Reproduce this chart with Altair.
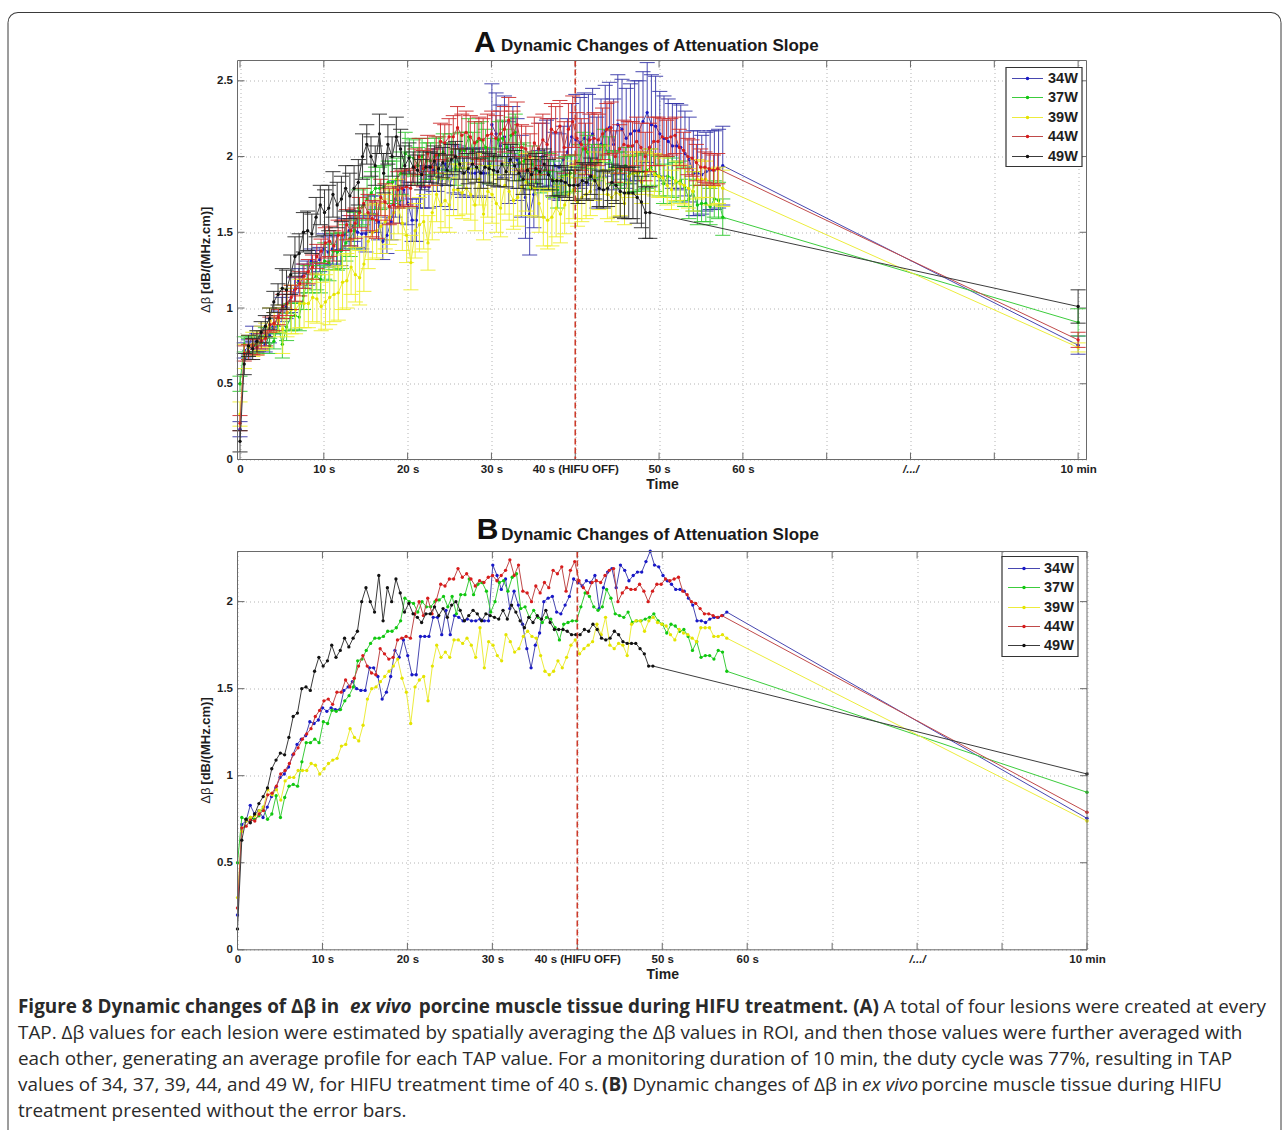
import altair as alt
import pandas as pd

# ---------------------------------------------------------------- data
SERIES = ["34W", "37W", "39W", "44W", "49W"]

V_34W = [0.20, 0.72, 0.74, 0.83, 0.78, 0.80, 0.76, 0.82, 0.88, 0.93,
         0.99, 1.01, 1.05, 1.12, 1.18, 1.21, 1.23, 1.31, 1.30, 1.32,
         1.39, 1.37, 1.39, 1.38, 1.38, 1.49, 1.51, 1.54, 1.50, 1.49,
         1.49, 1.62, 1.62, 1.57, 1.44, 1.48, 1.57, 1.72, 1.68, 1.78,
         1.69, 1.58, 1.58, 1.80, 1.80, 1.80, 1.91, 1.91, 1.81, 1.95,
         1.81, 1.92, 1.91, 1.89, 1.90, 1.89, 1.89, 1.90, 1.89, 1.89,
         2.21, 2.15, 2.07, 2.13, 1.96, 2.06, 1.98, 1.87, 1.73, 1.62,
         1.75, 1.82, 2.00, 2.02, 2.03, 1.94, 1.93, 1.98, 2.03, 2.13,
         2.11, 2.09, 2.12, 2.11, 2.15, 1.96, 2.08, 2.17, 2.19, 2.08,
         2.21, 2.18, 2.12, 2.15, 2.17, 2.17, 2.23, 2.29, 2.21, 2.20,
         2.15, 2.12, 2.10, 2.07, 2.07, 2.06, 2.02, 1.98, 1.89, 1.89,
         1.88, 1.90, 1.91, 1.91, 1.92, 1.94]

V_37W = [0.50,
         0.76, 0.75, 0.76, 0.75, 0.77, 0.82, 0.75, 0.78, 0.885, 0.76,
         0.875, 0.94, 0.95, 0.94, 1.08, 1.19, 1.19, 1.21, 1.19, 1.31,
         1.30, 1.375, 1.37, 1.38, 1.43, 1.46, 1.51,
         1.66, 1.67, 1.72, 1.76, 1.79, 1.79, 1.80, 1.83, 1.83, 1.85,
         1.89, 2.02, 2.00, 1.99, 1.94, 2.00, 1.97, 1.97, 2.00, 2.01,
         2.03, 1.97, 2.03, 1.93, 2.04, 2.04, 2.13, 2.04,
         2.10, 2.11, 2.06, 1.94, 2.00, 2.11, 2.12, 2.06, 2.14, 2.16,
         1.96, 1.97, 1.91, 1.95, 1.91, 1.88, 1.91, 1.90, 1.85, 1.78,
         1.87, 1.88, 1.89, 1.89, 1.97, 2.05, 2.03, 1.97,
         1.95, 1.97, 2.07, 2.02, 1.93, 1.92, 1.91, 1.94, 1.88, 1.89,
         1.89, 1.90, 1.91, 1.93, 1.89, 1.87, 1.82, 1.87, 1.86, 1.83,
         1.84, 1.80, 1.72, 1.77, 1.68, 1.69, 1.69, 1.67, 1.72, 1.71, 1.60]

V_39W = [0.30, 0.68,
         0.74, 0.76, 0.77, 0.80, 0.82, 0.92, 0.89, 0.92, 0.86, 0.97,
         0.99, 0.99, 1.03, 1.03, 1.03, 1.07, 1.06, 1.01, 1.04, 1.07,
         1.09, 1.10, 1.17, 1.18, 1.27, 1.22,
         1.20, 1.29, 1.44, 1.50, 1.51, 1.54, 1.57, 1.60, 1.63, 1.67,
         1.56, 1.48, 1.30, 1.51, 1.55, 1.57, 1.43, 1.63, 1.75, 1.68,
         1.71, 1.68, 1.78, 1.78, 1.76, 1.79, 1.75, 1.68,
         1.85, 1.62, 1.77, 1.75, 1.69, 1.66, 1.81, 1.77, 1.71, 1.73,
         1.80, 1.83, 1.80, 1.79, 1.69, 1.60, 1.58, 1.60, 1.66, 1.62,
         1.68, 1.75, 1.78, 1.70, 1.73, 1.75, 1.77,
         1.87, 1.81, 1.91, 1.75, 1.73, 1.76, 1.75, 1.69, 1.87, 1.89,
         1.89, 1.83, 1.89, 1.91, 1.88, 1.87, 1.86, 1.81, 1.78, 1.84,
         1.82, 1.81, 1.79, 1.77, 1.85, 1.85, 1.85, 1.80, 1.80, 1.81, 1.79]

V_44W = [0.24, 0.70,
         0.71, 0.745, 0.74, 0.78, 0.80, 0.89, 0.90, 0.94, 1.01, 1.03,
         1.07, 1.125, 1.16, 1.21, 1.24, 1.27, 1.34, 1.375, 1.43, 1.44,
         1.41, 1.48, 1.48, 1.55, 1.51,
         1.56, 1.63, 1.69, 1.63, 1.59, 1.58, 1.73, 1.70, 1.67, 1.68,
         1.78, 1.79, 1.80, 1.79, 1.93, 2.00, 1.92, 2.02, 1.93, 2.01,
         2.10, 2.09, 2.13, 2.13, 2.19, 2.14, 2.16, 2.13, 2.09,
         2.12, 2.11, 2.14, 2.15, 2.12, 2.15, 2.18, 2.24, 2.15, 2.21,
         2.06, 2.05, 2.00, 2.09, 2.05, 2.11, 2.08, 2.18, 2.16, 2.20,
         2.06, 2.18, 2.23, 2.12, 2.08, 2.05,
         2.11, 2.12, 2.11, 2.15, 2.18, 2.19, 2.00, 2.05, 2.08, 2.07,
         2.07, 2.10, 2.06, 2.00, 2.06, 2.10, 2.10, 2.13, 2.12, 2.13,
         2.14, 2.06, 2.04, 2.00, 1.99, 1.96, 1.93, 1.93, 1.92, 1.91, 1.92]

V_49W = [0.12, 0.63, 0.75, 0.73, 0.78, 0.84, 0.88, 0.93, 1.04, 1.09,
         1.13, 1.12, 1.22, 1.34, 1.36, 1.50, 1.51, 1.49, 1.60, 1.68,
         1.63, 1.66, 1.75, 1.68, 1.72, 1.79, 1.74, 1.79, 1.83, 2.00,
         2.08, 2.00, 1.94, 2.15, 1.89, 2.08, 2.00, 2.13, 2.05, 1.94,
         1.99, 1.93, 1.91, 1.88, 1.93, 1.93, 1.97, 1.92, 1.96, 1.91,
         1.98, 2.00, 1.95, 1.89, 1.92, 1.95, 1.93, 1.89, 1.93, 1.92,
         1.91, 1.90, 1.95, 1.90, 1.98, 1.94, 1.89, 1.85, 1.91, 1.88,
         1.92, 1.90, 1.95, 1.88, 1.84, 1.84, 1.84, 1.83, 1.81, 1.81,
         1.81, 1.84, 1.83, 1.87, 1.84, 1.79, 1.78, 1.79, 1.83, 1.81,
         1.77, 1.76, 1.76, 1.76, 1.73, 1.70, 1.63, 1.63]

VALUES = [V_34W, V_37W, V_39W, V_44W, V_49W]
LAST_SAMPLE_S = [57.6, 57.6, 57.6, 57.0, 48.9]   # time of the last sample before the 10-min point
TEN_MIN_POS = 100                                 # x position of the "10 min" point
TEN_MIN_V = [0.755, 0.905, 0.74, 0.79, 1.01]

# error-bar half heights (panel A), one estimate per 5-s window
ERR_WINDOW_S = 5
ERR_34W = [0.05, 0.08, 0.10, 0.12, 0.14, 0.16, 0.27, 0.22, 0.30, 0.33, 0.28, 0.26]
ERR_37W = [0.05, 0.09, 0.12, 0.14, 0.12, 0.12, 0.12, 0.12, 0.11, 0.12, 0.13, 0.12]
ERR_39W = [0.08, 0.16, 0.18, 0.18, 0.18, 0.17, 0.19, 0.19, 0.16, 0.14, 0.13, 0.12]
ERR_44W = [0.05, 0.08, 0.10, 0.12, 0.12, 0.14, 0.15, 0.17, 0.17, 0.16, 0.12, 0.10]
ERR_49W = [0.07, 0.13, 0.15, 0.13, 0.10, 0.10, 0.10, 0.10, 0.12, 0.17]
ERRS = [ERR_34W, ERR_37W, ERR_39W, ERR_44W, ERR_49W]
TEN_MIN_ERR = [0.06, 0.09, 0.03, 0.05, 0.11]

HIFU_OFF_S = 40
X_TICKS = [0, 10, 20, 30, 40, 50, 60, 70, 80, 90, 100]
X_TICK_LABELS = ["0", "10 s", "20 s", "30 s", "40 s (HIFU OFF)", "50 s", "60 s",
                 "", "/.../", "", "10 min"]
Y_TICKS_A = [0, 0.5, 1, 1.5, 2, 2.5]
Y_TICKS_B = [0, 0.5, 1, 1.5, 2]

TITLE_TEXT = "Dynamic Changes of Attenuation Slope"
X_TITLE = "Time"
Y_TITLE_SYMBOL = "Δβ"
Y_TITLE_UNIT = "[dB/(MHz.cm)]"

CAPTION = [
    # text, x, y, align, weight, style
    ("Figure 8 Dynamic changes of Δβ in", 18, 1006, "left", "bold", "normal"),
    ("ex vivo", 350, 1006, "left", "bold", "italic"),
    ("porcine muscle tissue during HIFU treatment. (A)", 879, 1006, "right", "bold", "normal"),
    ("A total of four lesions were created at every", 1266, 1006, "right", "normal", "normal"),
    ("TAP. Δβ values for each lesion were estimated by spatially averaging the Δβ values in ROI, "
     "and then those values were further averaged with", 18, 1032, "left", "normal", "normal"),
    ("each other, generating an average profile for each TAP value. For a monitoring duration of "
     "10 min, the duty cycle was 77%, resulting in TAP", 18, 1058, "left", "normal", "normal"),
    ("values of 34, 37, 39, 44, and 49 W, for HIFU treatment time of 40 s.", 18, 1084, "left", "normal", "normal"),
    ("(B)", 602, 1084, "left", "bold", "normal"),
    ("Dynamic changes of Δβ in", 632.5, 1084, "left", "normal", "normal"),
    ("ex vivo", 862, 1084, "left", "normal", "italic"),
    ("porcine muscle tissue during HIFU", 1222, 1084, "right", "normal", "normal"),
    ("treatment presented without the error bars.", 18, 1110, "left", "normal", "normal"),
]

# ---------------------------------------------------------------- style
LINE_COLORS = ["#4848b0", "#3ccc3c", "#ecec3c", "#c04a4a", "#3c3c3c"]
DOT_COLORS = ["#1818c8", "#10c810", "#e4e400", "#d81c1c", "#111111"]
ERR_COLORS = ["#3434a8", "#30c830", "#eeee2a", "#cc2a2a", "#262626"]
FONT = "Liberation Sans"
CAP_FONT = "Open Sans"
CAP_SIZE = 18.9
GRID = "#b4b4b4"
FRAME = "#6a6a6a"
TEXT = "#1e1e1e"
CAP_HALF = 0.9

ORIGIN_X = 237.5
A_TOP, A_W, A_H = 60, 849, 399
B_TOP, B_W, B_H = 551, 849.5, 398.3
SPACING = 92
C_TOP = B_TOP + B_H + SPACING

X_LABEL_EXPR = " : ".join(
    f"datum.value == {v} ? '{lab}'" for v, lab in zip(X_TICKS, X_TICK_LABELS)) + " : ''"


def series_frames(k):
    vals = VALUES[k]
    n = len(vals)
    rows = []
    for i, v in enumerate(vals):
        t = LAST_SAMPLE_S[k] * i / (n - 1)
        errs = ERRS[k]
        e = errs[min(int(t // ERR_WINDOW_S), len(errs) - 1)]
        rows.append((t, v, e))
    rows.append((TEN_MIN_POS, TEN_MIN_V[k], TEN_MIN_ERR[k]))
    df = pd.DataFrame(rows, columns=["t", "v", "e"])
    df["i"] = range(len(df))
    df["lo"] = df["v"] - df["e"]
    df["hi"] = df["v"] + df["e"]
    df["tl"] = df["t"] - CAP_HALF
    df["tr"] = df["t"] + CAP_HALF
    caps = pd.concat([
        df[["tl", "tr", "lo"]].rename(columns={"lo": "yc"}),
        df[["tl", "tr", "hi"]].rename(columns={"hi": "yc"}),
    ], ignore_index=True)
    return df, caps


ONE = pd.DataFrame({"a": [0]})


def vtext(txt, x, y, size, weight="bold", align="left", baseline="middle",
          font=FONT, style="normal", color=TEXT, angle=0):
    return alt.Chart(ONE).mark_text(
        text=txt, font=font, fontSize=size, fontWeight=weight, fontStyle=style,
        align=align, baseline=baseline, color=color, angle=angle
    ).encode(x=alt.value(x), y=alt.value(y))


def make_panel(letter, top, W, H, xdom, ydom, yticks, errorbars, leg, with_border):
    xs = alt.Scale(domain=xdom, nice=False, zero=False)
    ys = alt.Scale(domain=ydom, nice=False, zero=False)
    xa = alt.Axis(values=X_TICKS, labelExpr=X_LABEL_EXPR,
                  labelFontStyle={"condition": {"test": "datum.value == 80", "value": "italic"},
                                  "value": "normal"},
                  grid=True, gridDash=[1, 3], gridColor=GRID, gridWidth=1,
                  domain=False, ticks=False, labelPadding=4, labelFont=FONT,
                  labelFontSize=11.5, labelFontWeight="bold", labelColor=TEXT,
                  labelOverlap=False, labelFlush=False, labelAngle=0,
                  title=X_TITLE, titleFont=FONT, titleFontSize=14, titleFontWeight="bold",
                  titleColor=TEXT, titleX=W / 2, titleY=25, titleBaseline="middle",
                  titleAlign="center")
    ya = alt.Axis(values=yticks, format="~g", grid=True, gridDash=[1, 3], gridColor=GRID,
                  gridWidth=1, domain=False, ticks=False, labelPadding=5, labelFont=FONT,
                  labelFontSize=11.5, labelFontWeight="bold", labelColor=TEXT, title="")

    def X(f):
        return alt.X(f"{f}:Q", scale=xs, axis=xa)

    def Y(f):
        return alt.Y(f"{f}:Q", scale=ys, axis=ya)

    layers = []
    xt = pd.DataFrame({"xt": X_TICKS})
    yt = pd.DataFrame({"yt": yticks})
    layers.append(alt.Chart(xt).mark_rule(stroke=FRAME, strokeWidth=1).encode(
        x=X("xt"), y=alt.value(H), y2=alt.value(H - 7)))
    layers.append(alt.Chart(xt).mark_rule(stroke=FRAME, strokeWidth=1).encode(
        x=X("xt"), y=alt.value(0), y2=alt.value(7)))
    layers.append(alt.Chart(yt).mark_rule(stroke=FRAME, strokeWidth=1).encode(
        y=Y("yt"), x=alt.value(0), x2=alt.value(7)))
    layers.append(alt.Chart(yt).mark_rule(stroke=FRAME, strokeWidth=1).encode(
        y=Y("yt"), x=alt.value(W), x2=alt.value(W - 7)))

    for k in range(len(SERIES)):
        df, caps = series_frames(k)
        if errorbars:
            layers.append(alt.Chart(df).mark_rule(stroke=ERR_COLORS[k], strokeWidth=0.9).encode(
                x=X("t"), y=Y("lo"), y2="hi"))
            layers.append(alt.Chart(caps).mark_rule(stroke=ERR_COLORS[k], strokeWidth=0.9).encode(
                x=X("tl"), x2="tr", y=Y("yc")))
        layers.append(alt.Chart(df).mark_line(stroke=LINE_COLORS[k], strokeWidth=1).encode(
            x=X("t"), y=Y("v"), order="i:Q"))
        layers.append(alt.Chart(df).mark_circle(size=11, color=DOT_COLORS[k], opacity=1).encode(
            x=X("t"), y=Y("v")))

    # HIFU OFF marker
    layers.append(alt.Chart(pd.DataFrame({"xo": [HIFU_OFF_S]})).mark_rule(
        stroke="#cc3b2b", strokeWidth=1.6, strokeDash=[6, 3]).encode(
        x=X("xo"), y=alt.value(0), y2=alt.value(H)))

    # frame
    layers.append(alt.Chart(ONE).mark_rect(fillOpacity=0, stroke=FRAME, strokeWidth=1).encode(
        x=alt.value(0), x2=alt.value(W), y=alt.value(0), y2=alt.value(H)))

    # y-axis title: symbol regular, unit bold (rotated, reading upwards)
    y_start = H / 2 + 53
    layers.append(vtext(Y_TITLE_SYMBOL, -32, y_start, 13, weight="normal", angle=270))
    layers.append(vtext(Y_TITLE_UNIT, -32, y_start - 19, 13, weight="bold", angle=270))

    # legend
    bx0, bx1, by0, by1, rows, lx0, lx1, tx = leg
    layers.append(alt.Chart(ONE).mark_rect(fill="white", stroke="#333333", strokeWidth=1.2).encode(
        x=alt.value(bx0), x2=alt.value(bx1), y=alt.value(by0), y2=alt.value(by1)))
    for k, name in enumerate(SERIES):
        yy = rows[k]
        layers.append(alt.Chart(ONE).mark_rule(stroke=LINE_COLORS[k], strokeWidth=1).encode(
            x=alt.value(lx0), x2=alt.value(lx1), y=alt.value(yy)))
        layers.append(alt.Chart(ONE).mark_circle(size=12, color=DOT_COLORS[k], opacity=1).encode(
            x=alt.value((lx0 + lx1) / 2), y=alt.value(yy)))
        layers.append(vtext(name, tx, yy, 14.5))

    # title
    lx, ly, txx, tyy = {"A": (236.5, -8.5, 263.5, -10), "B": (239.2, -12.5, 263.7, -12)}[letter]
    layers.append(vtext(letter, lx, ly, 30, baseline="alphabetic", color="#111111"))
    layers.append(vtext(TITLE_TEXT, txx, tyy, 17, baseline="alphabetic", color="#1a1a1a"))

    if with_border:
        bl, bt, br, bb = 8 - ORIGIN_X, 12 - top, 1281 - ORIGIN_X, 1130 - top
        r = 10
        bc = "#3a3a3a"
        layers.append(alt.Chart(ONE).mark_rule(stroke=bc, strokeWidth=1).encode(
            x=alt.value(bl), y=alt.value(bt + r), y2=alt.value(bb)))
        layers.append(alt.Chart(ONE).mark_rule(stroke=bc, strokeWidth=1).encode(
            x=alt.value(br), y=alt.value(bt + r), y2=alt.value(bb)))
        layers.append(alt.Chart(ONE).mark_rule(stroke=bc, strokeWidth=1).encode(
            x=alt.value(bl + r), x2=alt.value(br - r), y=alt.value(bt)))
        layers.append(alt.Chart(ONE).mark_arc(theta=4.71239, theta2=6.28319, innerRadius=r - 0.5,
                                              outerRadius=r + 0.5, fill=bc).encode(
            x=alt.value(bl + r), y=alt.value(bt + r)))
        layers.append(alt.Chart(ONE).mark_arc(theta=0, theta2=1.5708, innerRadius=r - 0.5,
                                              outerRadius=r + 0.5, fill=bc).encode(
            x=alt.value(br - r), y=alt.value(bt + r)))

    return alt.layer(*layers).properties(width=W, height=H)


leg_a = (1006 - ORIGIN_X, 1082 - ORIGIN_X, 7, 106, [18, 37, 57, 76, 96],
         1012 - ORIGIN_X, 1043 - ORIGIN_X, 1048 - ORIGIN_X)
leg_b = (1002 - ORIGIN_X, 1078 - ORIGIN_X, 5, 105, [17, 36, 56, 75, 94],
         1008 - ORIGIN_X, 1040 - ORIGIN_X, 1044 - ORIGIN_X)

panel_a = make_panel("A", A_TOP, A_W, A_H, [-0.3, 101], [0, 2.634], Y_TICKS_A, True, leg_a, True)
panel_b = make_panel("B", B_TOP, B_W, B_H, [0, 100], [0, 2.288], Y_TICKS_B, False, leg_b, False)

cap_layers = []
for txt, x, y, align, weight, style in CAPTION:
    cap_layers.append(vtext(txt, x - ORIGIN_X, y - C_TOP, CAP_SIZE, weight=weight, align=align,
                            font=CAP_FONT, style=style, color="#2a2a2a"))
caption = alt.layer(*cap_layers).properties(width=A_W, height=60)

chart = alt.concat(panel_a, panel_b, caption, columns=1, spacing=SPACING,
                   bounds="flush", align="each").properties(
    padding={"left": 7.5, "top": 11.5, "right": 0, "bottom": 0},
    background="white",
).configure_view(strokeWidth=0, stroke=None)

chart.save("out.html", embed_options={"renderer": "svg", "actions": False})
